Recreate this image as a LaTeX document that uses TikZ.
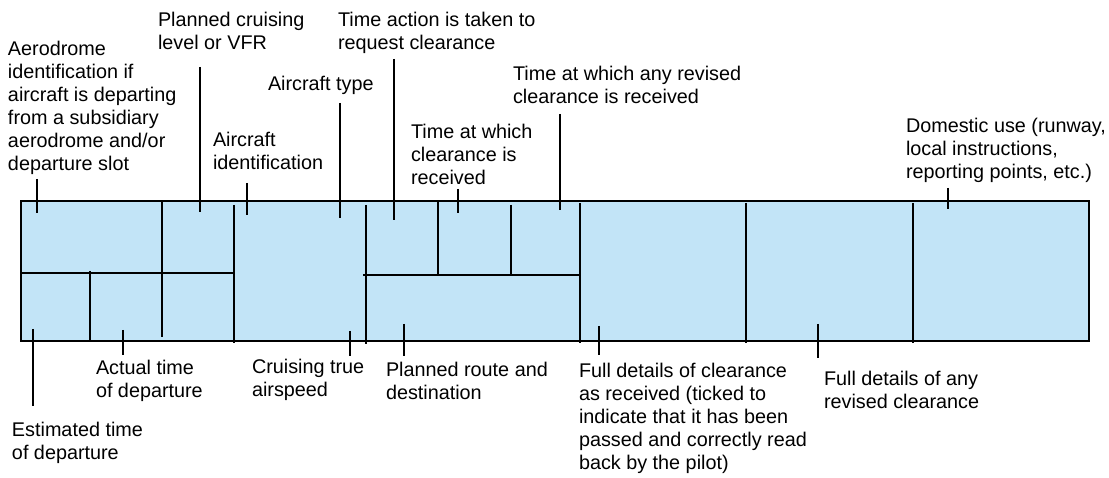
\documentclass[tikz,border=0pt]{standalone}
\usepackage{fontspec}
\setmainfont{Liberation Sans}
\definecolor{formblue}{RGB}{194,228,247}
\begin{document}
\begin{tikzpicture}[x=1pt,y=-1pt,
  lbl/.style={anchor=north west, inner sep=0pt, outer sep=0pt, align=left,
    font=\fontsize{19.8}{23.1}\selectfont},
  formbox/.style={draw=black, fill=formblue, line width=2.6pt, minimum width=1068pt,
    minimum height=140pt, inner sep=0pt, outer sep=0pt},
  rule/.style={line width=2.3pt, black},
  tick/.style={line width=2.1pt, black}]
\useasboundingbox (0,0) rectangle (1109,478);

% form
\node[formbox] (form) at (555,271) {};

% interior lines
\coordinate (h1a) at (21,272.7);   \coordinate (h1b) at (234,272.7);
\coordinate (v1a) at (162,201);    \coordinate (v1b) at (162,337);
\coordinate (v2a) at (90,271);     \coordinate (v2b) at (90,341);
\coordinate (v3a) at (234,205);    \coordinate (v3b) at (234,343);
\coordinate (v4a) at (366,205);    \coordinate (v4b) at (366,344);
\coordinate (h2a) at (363,274.7);  \coordinate (h2b) at (579,274.7);
\coordinate (v5a) at (437.7,201);  \coordinate (v5b) at (437.7,274);
\coordinate (v6a) at (511,205);    \coordinate (v6b) at (511,274);
\coordinate (v7a) at (580,203);    \coordinate (v7b) at (580,343);
\coordinate (v8a) at (745.7,203);  \coordinate (v8b) at (745.7,343);
\coordinate (v9a) at (912.7,203);  \coordinate (v9b) at (912.7,343);
\foreach \p in {h1,v1,v2,v3,v4,h2,v5,v6,v7,v8,v9}
  \draw[rule] (\p a) -- (\p b);

% labels (top)
\node[lbl] (aero) at (8,40.7) {Aerodrome\\identification if\\aircraft is departing\\from a subsidiary\\aerodrome and/or\\departure slot};
\node[lbl] (level) at (158,12.2) {Planned cruising\\level or VFR};
\node[lbl] (acid) at (213,131.7) {Aircraft\\identification};
\node[lbl] (actype) at (268,76) {Aircraft type};
\node[lbl] (treq) at (338,12.2) {Time action is taken to\\request clearance};
\node[lbl] (trec) at (411,124.2) {Time at which\\clearance is\\received};
\node[lbl] (trev) at (513,66.2) {Time at which any revised\\clearance is received};
\node[lbl] (dom) at (906,118.4) {Domestic use (runway,\\local instructions,\\reporting points, etc.)};

% labels (bottom)
\node[lbl] (etd) at (12,421.8) {Estimated time\\of departure};
\node[lbl] (atd) at (96,360.2) {Actual time\\of departure};
\node[lbl] (tas) at (252,359.2) {Cruising true\\airspeed};
\node[lbl] (route) at (386,361.8) {Planned route and\\destination};
\node[lbl] (clr) at (579,362.8) {Full details of clearance\\as received (ticked to\\indicate that it has been\\passed and correctly read\\back by the pilot)};
\node[lbl] (rclr) at (824,370.8) {Full details of any\\revised clearance};

% leader ticks
\coordinate (t1a) at (37,179);   \coordinate (t1b) at (37,213);
\coordinate (t2a) at (200,67);   \coordinate (t2b) at (200,212);
\coordinate (t3a) at (247,183);  \coordinate (t3b) at (247,215);
\coordinate (t4a) at (340,103);  \coordinate (t4b) at (340,218);
\coordinate (t5a) at (394,59);   \coordinate (t5b) at (394,220);
\coordinate (t6a) at (458,189);  \coordinate (t6b) at (458,213);
\coordinate (t7a) at (560,114);  \coordinate (t7b) at (560,210);
\coordinate (t8a) at (948,188);  \coordinate (t8b) at (948,209);
\coordinate (t9a) at (33,329);   \coordinate (t9b) at (33,406);
\coordinate (t10a) at (123,330); \coordinate (t10b) at (123,355);
\coordinate (t11a) at (350,331); \coordinate (t11b) at (350,356);
\coordinate (t12a) at (404,324); \coordinate (t12b) at (404,356);
\coordinate (t13a) at (599,326); \coordinate (t13b) at (599,355);
\coordinate (t14a) at (818,324); \coordinate (t14b) at (818,358);
\foreach \i in {1,...,14}
  \draw[tick] (t\i a) -- (t\i b);
\end{tikzpicture}
\end{document}
